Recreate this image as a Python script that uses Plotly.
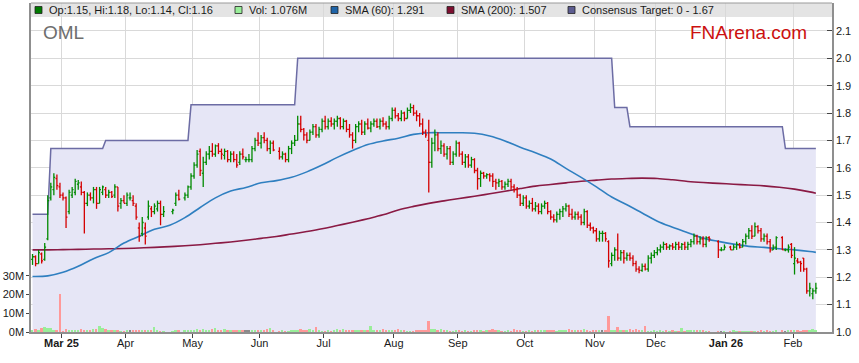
import pandas as pd
import plotly.graph_objects as go

# ---------------- data ----------------
holidays = ["2025-04-18", "2025-04-21", "2025-04-25", "2025-06-09",
            "2025-12-25", "2025-12-26", "2026-01-01", "2026-01-26"]
first_day, last_day = "2025-02-17", "2026-02-11"

opens = [
    # Feb 25
    1.265, 1.275, 1.25, 1.285, 1.265, 1.34, 1.49, 1.52, 1.56, 1.53,
    # Mar
    1.50, 1.49, 1.44, 1.50, 1.51, 1.54, 1.53, 1.51, 1.47, 1.50, 1.49, 1.52, 1.47, 1.51, 1.52,
    1.50, 1.51, 1.50, 1.53, 1.47, 1.48,
    # Apr
    1.47, 1.49, 1.48, 1.46, 1.38, 1.36, 1.38, 1.42, 1.45, 1.44, 1.45, 1.47, 1.43, 1.44, 1.47,
    1.50, 1.49, 1.50, 1.53,
    # May
    1.57, 1.61, 1.66, 1.58, 1.62, 1.65, 1.66, 1.65, 1.68, 1.66, 1.645, 1.66, 1.63, 1.65, 1.63,
    1.62, 1.65, 1.63, 1.63, 1.63, 1.67, 1.70,
    # Jun
    1.69, 1.71, 1.70, 1.67, 1.69, 1.66, 1.64, 1.65, 1.63, 1.67, 1.69, 1.70, 1.76, 1.74, 1.72,
    1.70, 1.73, 1.75, 1.72, 1.74,
    # Jul
    1.77, 1.75, 1.77, 1.76, 1.77, 1.78, 1.75, 1.77, 1.74, 1.72, 1.70, 1.75, 1.76, 1.73, 1.76,
    1.745, 1.76, 1.77, 1.75, 1.77, 1.76, 1.75, 1.78,
    # Aug
    1.81, 1.79, 1.78, 1.80, 1.78, 1.81, 1.82, 1.80, 1.79, 1.76, 1.73, 1.70, 1.62, 1.69, 1.72,
    1.67, 1.68, 1.65, 1.67, 1.62, 1.65,
    # Sep
    1.69, 1.65, 1.62, 1.64, 1.61, 1.63, 1.59, 1.56, 1.58, 1.57, 1.575, 1.57, 1.55, 1.545, 1.55,
    1.53, 1.54, 1.55, 1.53, 1.52, 1.50, 1.47,
    # Oct
    1.49, 1.46, 1.47, 1.45, 1.46, 1.44, 1.46, 1.47, 1.44, 1.42, 1.41, 1.43, 1.44, 1.45, 1.46,
    1.43, 1.42, 1.43, 1.42, 1.40, 1.44, 1.39, 1.38,
    # Nov
    1.37, 1.34, 1.36, 1.36, 1.33, 1.25, 1.28, 1.30, 1.27, 1.29, 1.27, 1.28, 1.27, 1.25, 1.23,
    1.225, 1.24, 1.23, 1.27, 1.28,
    # Dec
    1.29, 1.30, 1.31, 1.32, 1.31, 1.315, 1.31, 1.32, 1.31, 1.32, 1.31, 1.32, 1.33, 1.35, 1.33,
    1.34, 1.32, 1.345, 1.33, 1.30, 1.30,
    # Jan 26
    1.31, 1.30, 1.31, 1.32, 1.31, 1.33, 1.35, 1.37, 1.35, 1.385, 1.37, 1.34, 1.35, 1.33, 1.30,
    1.31, 1.345, 1.30, 1.30, 1.32,
    # Feb 26
    1.25, 1.26, 1.255, 1.27, 1.23, 1.15, 1.14, 1.15,
]
highs = [
    1.285, 1.28, 1.30, 1.29, 1.325, 1.50, 1.545, 1.58, 1.575, 1.545,
    1.51, 1.495, 1.52, 1.53, 1.56, 1.555, 1.55, 1.515, 1.51, 1.51, 1.53, 1.53, 1.53, 1.535, 1.53,
    1.52, 1.515, 1.54, 1.53, 1.49, 1.50,
    1.51, 1.51, 1.50, 1.47, 1.40, 1.42, 1.40, 1.48, 1.46, 1.47, 1.48, 1.48, 1.46, 1.45, 1.51,
    1.52, 1.51, 1.535, 1.58,
    1.62, 1.665, 1.67, 1.64, 1.66, 1.68, 1.69, 1.685, 1.69, 1.67, 1.67, 1.665, 1.66, 1.66, 1.65,
    1.66, 1.67, 1.64, 1.65, 1.68, 1.71, 1.73,
    1.72, 1.73, 1.71, 1.70, 1.70, 1.675, 1.66, 1.655, 1.68, 1.70, 1.72, 1.79, 1.79, 1.745, 1.73,
    1.74, 1.76, 1.76, 1.75, 1.78,
    1.79, 1.78, 1.785, 1.78, 1.79, 1.785, 1.78, 1.775, 1.76, 1.73, 1.76, 1.77, 1.775, 1.77, 1.78,
    1.77, 1.78, 1.78, 1.78, 1.785, 1.77, 1.79, 1.82,
    1.82, 1.80, 1.81, 1.805, 1.82, 1.835, 1.83, 1.81, 1.80, 1.78, 1.74, 1.775, 1.71, 1.74, 1.73,
    1.70, 1.69, 1.68, 1.68, 1.66, 1.70,
    1.695, 1.66, 1.65, 1.65, 1.64, 1.635, 1.60, 1.59, 1.585, 1.58, 1.58, 1.58, 1.56, 1.56, 1.555,
    1.55, 1.56, 1.56, 1.54, 1.53, 1.505, 1.50,
    1.50, 1.48, 1.49, 1.475, 1.47, 1.47, 1.48, 1.475, 1.445, 1.43, 1.44, 1.45, 1.46, 1.47, 1.465,
    1.45, 1.44, 1.44, 1.43, 1.45, 1.445, 1.40, 1.385,
    1.38, 1.37, 1.37, 1.365, 1.335, 1.29, 1.31, 1.36, 1.30, 1.30, 1.29, 1.29, 1.28, 1.26, 1.24,
    1.25, 1.25, 1.28, 1.29, 1.30,
    1.31, 1.32, 1.33, 1.325, 1.32, 1.325, 1.33, 1.33, 1.325, 1.33, 1.33, 1.34, 1.36, 1.355, 1.35,
    1.35, 1.35, 1.35, 1.335, 1.31, 1.32,
    1.315, 1.32, 1.33, 1.325, 1.34, 1.36, 1.38, 1.39, 1.40, 1.39, 1.38, 1.36, 1.36, 1.34, 1.32,
    1.35, 1.35, 1.305, 1.32, 1.325,
    1.31, 1.27, 1.26, 1.27, 1.235, 1.18, 1.16, 1.18,
]
lows = [
    1.245, 1.24, 1.25, 1.25, 1.26, 1.335, 1.48, 1.50, 1.52, 1.49,
    1.48, 1.38, 1.43, 1.49, 1.50, 1.52, 1.50, 1.36, 1.46, 1.48, 1.47, 1.45, 1.47, 1.50, 1.49,
    1.49, 1.49, 1.49, 1.44, 1.45, 1.47,
    1.46, 1.48, 1.46, 1.41, 1.33, 1.35, 1.32, 1.41, 1.42, 1.43, 1.44, 1.39, 1.42, 1.43, 1.46,
    1.48, 1.48, 1.49, 1.52,
    1.56, 1.60, 1.57, 1.53, 1.61, 1.63, 1.64, 1.64, 1.65, 1.63, 1.63, 1.62, 1.62, 1.62, 1.60,
    1.61, 1.63, 1.62, 1.62, 1.62, 1.66, 1.68,
    1.67, 1.69, 1.66, 1.65, 1.66, 1.63, 1.63, 1.62, 1.62, 1.65, 1.68, 1.70, 1.73, 1.70, 1.69,
    1.70, 1.72, 1.71, 1.71, 1.73,
    1.74, 1.74, 1.75, 1.74, 1.75, 1.74, 1.74, 1.73, 1.71, 1.67, 1.69, 1.73, 1.72, 1.72, 1.74,
    1.73, 1.75, 1.745, 1.74, 1.75, 1.74, 1.74, 1.77,
    1.78, 1.77, 1.77, 1.77, 1.78, 1.80, 1.79, 1.77, 1.75, 1.72, 1.71, 1.51, 1.60, 1.66, 1.66,
    1.65, 1.64, 1.63, 1.61, 1.61, 1.64,
    1.64, 1.61, 1.60, 1.60, 1.60, 1.58, 1.52, 1.53, 1.56, 1.56, 1.55, 1.53, 1.52, 1.53, 1.52,
    1.52, 1.53, 1.52, 1.51, 1.49, 1.46, 1.46,
    1.45, 1.45, 1.44, 1.44, 1.43, 1.43, 1.45, 1.43, 1.41, 1.40, 1.40, 1.41, 1.42, 1.44, 1.42,
    1.41, 1.41, 1.41, 1.39, 1.39, 1.38, 1.37, 1.36,
    1.33, 1.33, 1.33, 1.33, 1.235, 1.24, 1.26, 1.26, 1.26, 1.25, 1.26, 1.26, 1.24, 1.22, 1.215,
    1.22, 1.225, 1.22, 1.25, 1.27,
    1.28, 1.29, 1.30, 1.30, 1.30, 1.30, 1.30, 1.30, 1.30, 1.30, 1.30, 1.31, 1.32, 1.32, 1.32,
    1.31, 1.31, 1.33, 1.27, 1.295, 1.30,
    1.30, 1.30, 1.30, 1.305, 1.31, 1.32, 1.34, 1.34, 1.35, 1.36, 1.33, 1.33, 1.32, 1.29, 1.30,
    1.30, 1.30, 1.295, 1.29, 1.27,
    1.21, 1.25, 1.22, 1.22, 1.14, 1.13, 1.12, 1.14,
]
closes = [
    1.275, 1.25, 1.29, 1.26, 1.31, 1.48, 1.53, 1.565, 1.535, 1.50,
    1.49, 1.42, 1.51, 1.52, 1.55, 1.545, 1.51, 1.47, 1.50, 1.49, 1.52, 1.47, 1.52, 1.53, 1.50,
    1.51, 1.495, 1.53, 1.46, 1.48, 1.47,
    1.50, 1.49, 1.47, 1.42, 1.35, 1.40, 1.35, 1.46, 1.44, 1.46, 1.47, 1.43, 1.44, 1.445, 1.50,
    1.485, 1.50, 1.53, 1.57,
    1.61, 1.65, 1.59, 1.62, 1.65, 1.66, 1.65, 1.68, 1.66, 1.65, 1.66, 1.63, 1.65, 1.63, 1.61,
    1.65, 1.64, 1.63, 1.63, 1.67, 1.70, 1.69,
    1.71, 1.70, 1.67, 1.69, 1.665, 1.64, 1.65, 1.63, 1.67, 1.69, 1.70, 1.76, 1.74, 1.72, 1.70,
    1.73, 1.75, 1.72, 1.74, 1.77,
    1.75, 1.77, 1.76, 1.77, 1.78, 1.75, 1.77, 1.74, 1.72, 1.70, 1.75, 1.76, 1.73, 1.76, 1.745,
    1.76, 1.77, 1.75, 1.77, 1.76, 1.75, 1.78, 1.81,
    1.79, 1.78, 1.80, 1.78, 1.81, 1.82, 1.80, 1.79, 1.76, 1.73, 1.72, 1.62, 1.69, 1.72, 1.67,
    1.68, 1.65, 1.67, 1.62, 1.65, 1.69,
    1.65, 1.62, 1.64, 1.61, 1.63, 1.59, 1.56, 1.58, 1.57, 1.575, 1.57, 1.55, 1.545, 1.55, 1.53,
    1.54, 1.55, 1.53, 1.52, 1.50, 1.47, 1.49,
    1.46, 1.47, 1.45, 1.46, 1.44, 1.46, 1.47, 1.44, 1.42, 1.41, 1.43, 1.44, 1.45, 1.46, 1.43,
    1.42, 1.43, 1.42, 1.40, 1.44, 1.39, 1.38, 1.37,
    1.34, 1.36, 1.36, 1.34, 1.26, 1.28, 1.30, 1.27, 1.29, 1.27, 1.28, 1.27, 1.25, 1.23, 1.225,
    1.24, 1.23, 1.27, 1.28, 1.29,
    1.30, 1.31, 1.32, 1.31, 1.315, 1.31, 1.32, 1.31, 1.32, 1.31, 1.32, 1.33, 1.35, 1.33, 1.34,
    1.32, 1.345, 1.34, 1.30, 1.30, 1.31,
    1.30, 1.31, 1.32, 1.31, 1.33, 1.35, 1.37, 1.35, 1.385, 1.37, 1.34, 1.35, 1.33, 1.30, 1.31,
    1.345, 1.30, 1.30, 1.31, 1.28,
    1.27, 1.255, 1.25, 1.23, 1.15, 1.16, 1.15, 1.16,
]
volume_m = [
    1.0, 1.4, 0.6, 2.0, 2.7, 2.3, 2.0, 1.0, 0.6, 20.5,
    0.3, 1.6, 1.2, 1.1, 0.9, 1.2, 1.6, 1.1, 0.9, 1.2, 1.6, 1.4, 3.2, 2.0, 1.8,
    0.6, 0.9, 1.2, 0.6, 0.4, 0.3,
    0.6, 0.6, 0.6, 1.3, 1.1, 0.6, 0.8, 1.3, 1.0, 2.9, 0.8, 0.3, 0.5, 0.5, 0.9,
    1.2, 0.6, 0.8, 0.9,
    1.2, 1.6, 0.8, 1.6, 1.1, 1.0, 1.4, 2.0, 0.8, 1.0, 1.6, 0.8, 1.1, 0.9, 0.6,
    0.8, 0.6, 0.8, 0.6, 0.7, 1.0, 1.0,
    1.2, 0.6, 1.6, 2.4, 0.6, 0.4, 0.6, 0.5, 0.5, 0.9, 1.2, 1.0, 1.4, 0.8, 0.9,
    1.6, 1.0, 2.9, 0.6, 0.5,
    0.5, 0.6, 0.5, 0.7, 1.5, 0.8, 1.4, 0.9, 0.6, 0.9, 0.6, 1.0, 0.8, 0.6, 0.9,
    3.2, 0.7, 0.9, 1.2, 1.6, 1.2, 1.3, 1.0,
    1.0, 1.8, 0.6, 0.8, 0.5, 0.5, 0.5, 0.6, 0.6, 0.6, 0.6, 5.9, 1.8, 1.4, 0.9,
    1.4, 1.0, 0.8, 0.5, 0.4, 0.6,
    0.8, 0.4, 0.8, 0.5, 0.4, 0.6, 0.6, 0.6, 0.5, 0.6, 0.6, 1.6, 0.9, 1.0, 0.3,
    0.4, 0.6, 0.5, 1.6, 1.0, 0.6, 0.4,
    0.4, 0.6, 0.5, 0.6, 0.9, 0.6, 0.6, 1.0, 0.6, 1.3, 0.5, 0.9, 0.6, 0.6, 1.8,
    0.8, 0.6, 0.6, 0.6, 1.6, 1.0, 0.5, 0.8,
    1.0, 0.6, 0.6, 0.6, 8.5, 0.6, 0.9, 2.6, 0.8, 1.3, 1.0, 1.6, 0.9, 1.4, 0.6,
    0.9, 3.0, 0.5, 0.4, 0.8,
    0.5, 0.6, 0.5, 0.7, 0.5, 0.6, 0.5, 0.4, 2.3, 0.5, 0.8, 0.6, 0.8, 0.8, 0.6,
    0.8, 0.3, 0.1, 0.3, 0.2, 0.2,
    0.3, 0.6, 0.4, 0.4, 0.4, 0.5, 0.5, 0.4, 0.5, 0.4, 0.6, 0.5, 0.6, 0.4, 0.5,
    0.6, 0.8, 0.5, 0.7, 1.0,
    1.3, 0.6, 0.4, 1.0, 1.0, 0.6, 1.6, 1.076,
]

# moving averages, read weekly (Mondays) plus the last session
sma_first_monday = "2025-02-17"
sma60 = [1.203, 1.205, 1.218, 1.24, 1.268, 1.29, 1.325, 1.35, 1.375, 1.39,
         1.418, 1.455, 1.49, 1.515, 1.528, 1.545, 1.553, 1.565, 1.585, 1.61,
         1.638, 1.663, 1.685, 1.698, 1.708, 1.722, 1.728, 1.728, 1.728, 1.726,
         1.716, 1.698, 1.675, 1.655, 1.632, 1.598, 1.565, 1.53, 1.493, 1.465,
         1.435, 1.405, 1.383, 1.363, 1.343, 1.331, 1.321, 1.313, 1.309, 1.304,
         1.30, 1.294, 1.291]
sma200 = [1.30, 1.30, 1.301, 1.302, 1.303, 1.304, 1.305, 1.307, 1.309, 1.312,
          1.315, 1.319, 1.324, 1.329, 1.335, 1.342, 1.349, 1.358, 1.367, 1.377,
          1.389, 1.401, 1.414, 1.428, 1.446, 1.459, 1.47, 1.479, 1.488, 1.496,
          1.505, 1.514, 1.524, 1.533, 1.539, 1.545, 1.551, 1.555, 1.559, 1.561,
          1.562, 1.561, 1.556, 1.55, 1.546, 1.543, 1.54, 1.537, 1.534, 1.529,
          1.522, 1.512, 1.507]

# consensus target: level and the session it took effect
target_start = ["2025-02-17", "2025-02-25", "2025-03-21", "2025-04-30",
                "2025-06-18", "2025-11-11", "2025-11-18", "2026-01-28"]
target_level = [1.43, 1.67, 1.70, 1.83, 2.00, 1.82, 1.75, 1.67]

month_ticks = ["2025-03-03", "2025-04-01", "2025-05-01", "2025-06-02", "2025-07-01",
               "2025-08-01", "2025-09-01", "2025-10-01", "2025-11-03", "2025-12-01",
               "2026-01-01", "2026-02-02"]
month_labels = ["<b>Mar 25</b>", "Apr", "May", "Jun", "Jul", "Aug", "Sep", "Oct",
                "Nov", "Dec", "<b>Jan 26</b>", "Feb"]

price_ticks = [1.0, 1.1, 1.2, 1.3, 1.4, 1.5, 1.6, 1.7, 1.8, 1.9, 2.0, 2.1]
vol_ticks = [0, 10e6, 20e6, 30e6]
vol_labels = ["0M", "10M", "20M", "30M"]

# ---------------- build ----------------
days = [d for d in pd.bdate_range(first_day, last_day) if d.strftime("%Y-%m-%d") not in holidays]
n = len(days)
assert n == len(opens) == len(highs) == len(lows) == len(closes) == len(volume_m), (
    n, len(opens), len(highs), len(lows), len(closes), len(volume_m))
noon = [d + pd.Timedelta(hours=12) for d in days]
xs = [d.strftime("%Y-%m-%d %H:%M") for d in noon]

tstart = pd.to_datetime(target_start)
target = [target_level[i] for i in (tstart.searchsorted(pd.DatetimeIndex(days), side="right") - 1)]

sma_days = list(pd.date_range(sma_first_monday, periods=len(sma60) - 1, freq="7D")) + [days[-1]]
sma_x = [d.strftime("%Y-%m-%d") + " 12:00" for d in sma_days]

vol_colors = []
for o, c in zip(opens, closes):
    vol_colors.append("#99ee99" if c > o else ("#ff9999" if c < o else "#8a8a8a"))

# OHLC bars built as line segments (stem + open tick + close tick)
tick = pd.Timedelta(hours=11)


def bar_paths(up):
    X, Y = [], []
    for i in range(n):
        if (closes[i] >= opens[i]) != up:
            continue
        c = noon[i]
        X += [c, c, None, c - tick, c, None, c, c + tick, None]
        Y += [lows[i], highs[i], None, opens[i], opens[i], None, closes[i], closes[i], None]
    return X, Y


fig = go.Figure()
fig.add_trace(go.Scatter(x=xs, y=target, mode="lines", fill="tozeroy",
                         fillcolor="rgb(230,230,246)",
                         line=dict(color="#6c6ca4", width=1.5), hoverinfo="skip"))
fig.add_trace(go.Scatter(x=sma_x, y=sma200, mode="lines",
                         line=dict(color="#8a1a44", width=1.6, shape="spline")))
fig.add_trace(go.Scatter(x=sma_x, y=sma60, mode="lines",
                         line=dict(color="#2f7fc0", width=1.6, shape="spline")))
for up, col in ((True, "#008a00"), (False, "#d40000")):
    bx, by = bar_paths(up)
    fig.add_trace(go.Scatter(x=bx, y=by, mode="lines", connectgaps=False,
                             line=dict(color=col, width=1.3), hoverinfo="skip"))
fig.add_trace(go.Bar(x=xs, y=[v * 1e6 for v in volume_m], yaxis="y2",
                     marker=dict(color=vol_colors, line=dict(width=0)),
                     width=0.62 * 86400000))

L, R, T, B = 31, 832, 3, 332
W, H = 859, 363


def px(x):
    return (x - L) / (R - L)


def py(y):
    return (B - y) / (B - T)


shapes = [
    dict(type="rect", xref="paper", yref="paper", x0=0, x1=1, y0=py(17), y1=1,
         fillcolor="#e4e4e4", line=dict(width=0), layer="below"),
    dict(type="line", xref="paper", yref="paper", x0=0, x1=1, y0=1, y1=1,
         line=dict(color="#9a9a9a", width=1)),
]
legend_items = [
    (35, 47, "#007a00", "Op:1.15, Hi:1.18, Lo:1.14, Cl:1.16"),
    (235, 247, "#99ee99", "Vol: 1.076M"),
    (331, 343, "#1f64a8", "SMA (60): 1.291"),
    (447, 459, "#7d0f30", "SMA (200): 1.507"),
    (568, 580, "#5c5c90", "Consensus Target: 0 - 1.67"),
]
annotations = []
for sx, tx, col, label in legend_items:
    shapes.append(dict(type="rect", xref="paper", yref="paper",
                       x0=px(sx), x1=px(sx + 7), y0=py(13.5), y1=py(6.5),
                       fillcolor=col, line=dict(color="#222", width=0.8)))
    annotations.append(dict(xref="paper", yref="paper", x=px(tx), y=py(10.5),
                            xanchor="left", yanchor="middle", showarrow=False,
                            text=label, font=dict(size=11, color="#1a1a1a")))
annotations.append(dict(xref="paper", yref="paper", x=px(41), y=py(33),
                        xanchor="left", yanchor="middle", showarrow=False,
                        text="OML", font=dict(size=19, color="#6e6e6e")))
annotations.append(dict(xref="paper", yref="paper", x=px(809), y=py(32.5),
                        xanchor="right", yanchor="middle", showarrow=False,
                        text="FNArena.com", font=dict(size=19, color="#cc1010")))

fig.update_layout(
    width=W, height=H,
    margin=dict(l=L, r=W - R, t=T, b=H - B, pad=0),
    paper_bgcolor="white", plot_bgcolor="white",
    showlegend=False, bargap=0,
    font=dict(family="Liberation Sans, Arial, sans-serif", size=11, color="#1a1a1a"),
    shapes=shapes, annotations=annotations,
    xaxis=dict(type="date", range=["2025-02-17 00:00", "2026-02-18 19:00"],
               rangebreaks=[dict(bounds=["sat", "mon"])],
               tickvals=month_ticks, ticktext=month_labels,
               ticks="outside", ticklen=4, tickcolor="#444",
               showgrid=True, gridcolor="#d9d9d9", gridwidth=1,
               showline=True, linecolor="#8f8f8f", linewidth=1.5,
               zeroline=False, rangeslider=dict(visible=False),
               tickfont=dict(size=11, color="#1a1a1a")),
    yaxis=dict(side="right", range=[1.0, 2.202], tickvals=price_ticks,
               ticktext=[f"{v:.1f}" for v in price_ticks],
               ticks="inside", ticklen=5, tickcolor="#444",
               showgrid=True, gridcolor="#d9d9d9", gridwidth=1,
               showline=True, linecolor="#8f8f8f", linewidth=1.5, zeroline=False,
               tickfont=dict(size=11, color="#1a1a1a")),
    yaxis2=dict(overlaying="y", side="left", range=[0, 176e6],
                tickvals=vol_ticks, ticktext=vol_labels,
                ticks="outside", ticklen=3, tickcolor="#444",
                showgrid=False, showline=True, linecolor="#8f8f8f", linewidth=1.5,
                zeroline=False, tickfont=dict(size=11, color="#1a1a1a")),
)
try:
    fig.update_xaxes(ticklabelstandoff=-4)
except Exception:
    pass

fig.write_html("out.html", config={"displayModeBar": False},
               post_script="document.body.style.margin='0px';document.body.style.overflow='hidden';")
